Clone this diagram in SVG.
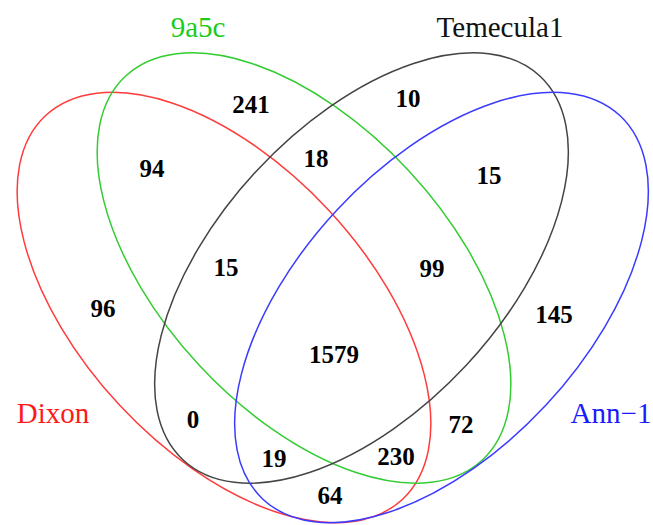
<svg xmlns="http://www.w3.org/2000/svg" width="653" height="525" viewBox="0 0 653 525">
<style>
.set{fill:none;stroke-width:1.5}
.lbl{font-family:"Liberation Serif","Times New Roman",serif;font-size:29px;text-anchor:middle}
.num{font-family:"Liberation Serif","Times New Roman",serif;font-size:25px;font-weight:bold;text-anchor:middle;fill:#000}
</style>
<rect width="653" height="525" fill="#fff"/>
<g id="connectors"/>
<g id="dixon">
<ellipse class="set" stroke="#ff3b3b" cx="224" cy="307.5" rx="262" ry="143" transform="rotate(47.1 224 307.5)"/>
<text class="lbl" x="53" y="423" fill="#ff1a1a">Dixon</text>
</g>
<g id="g9a5c">
<ellipse class="set" stroke="#33cc33" cx="304" cy="268" rx="262" ry="143" transform="rotate(47.1 304 268)"/>
<text class="lbl" x="198" y="37" fill="#1acc1a">9a5c</text>
</g>
<g id="temecula1">
<ellipse class="set" stroke="#444" cx="361.5" cy="268" rx="262" ry="143" transform="rotate(-47.1 361.5 268)"/>
<text class="lbl" x="500" y="37" fill="#111">Temecula1</text>
</g>
<g id="ann1">
<ellipse class="set" stroke="#3b3bff" cx="441.5" cy="307.5" rx="262" ry="143" transform="rotate(-47.1 441.5 307.5)"/>
<text class="lbl" x="611" y="423" fill="#1a1aff">Ann−1</text>
</g>
<g id="counts">
<text class="num" x="251" y="113">241</text>
<text class="num" x="408" y="107">10</text>
<text class="num" x="152" y="177">94</text>
<text class="num" x="316" y="167">18</text>
<text class="num" x="489" y="184">15</text>
<text class="num" x="226" y="276">15</text>
<text class="num" x="432" y="277">99</text>
<text class="num" x="103" y="317">96</text>
<text class="num" x="554" y="323">145</text>
<text class="num" x="334" y="363">1579</text>
<text class="num" x="193" y="428">0</text>
<text class="num" x="461" y="433">72</text>
<text class="num" x="274" y="467">19</text>
<text class="num" x="396" y="465">230</text>
<text class="num" x="330" y="504">64</text>
</g>
</svg>
